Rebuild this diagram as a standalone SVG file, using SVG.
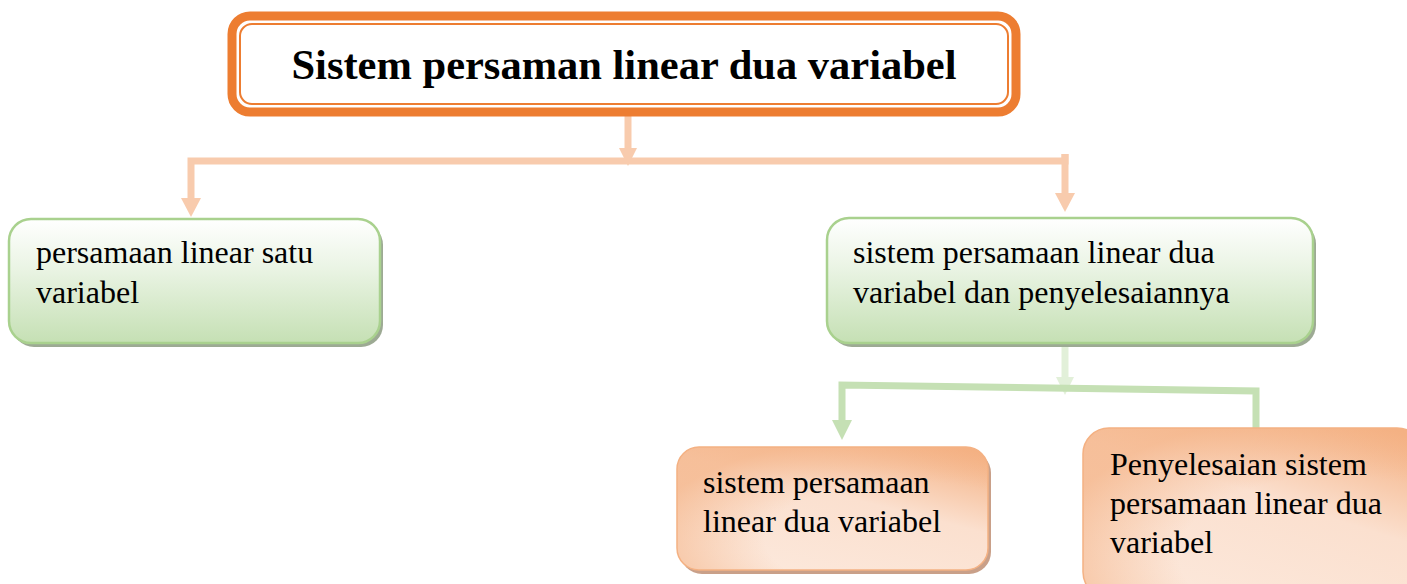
<svg xmlns="http://www.w3.org/2000/svg" width="1407" height="584" viewBox="0 0 1407 584">
<style>
.t{font-family:"Liberation Serif","Times New Roman",serif;font-size:32px;fill:#000}
.title{font-family:"Liberation Serif","Times New Roman",serif;font-size:42.5px;font-weight:bold;fill:#000}
.gbox{fill:url(#gg);stroke:#A9D18E;stroke-width:2.5}
.obox{fill:url(#og);stroke:#F4B183;stroke-width:1.5}
.gsh{fill:#9DAA94}
.osh{fill:#C9A089}
.pc{stroke:#F8CBAD;stroke-width:7;fill:none}
.gc{stroke:#C5E0B4;stroke-width:7;fill:none}
.lc{stroke:#E2F0D9;stroke-width:7;fill:none}
</style>
<defs>
<linearGradient id="gg" x1="0" y1="0" x2="0" y2="1">
<stop offset="0" stop-color="#FFFFFF"/>
<stop offset="0.4" stop-color="#EAF4E4"/>
<stop offset="1" stop-color="#C5E0B4"/>
</linearGradient>
<linearGradient id="og" x1="0.9" y1="0" x2="0.25" y2="1">
<stop offset="0" stop-color="#F4B183"/>
<stop offset="0.45" stop-color="#FBE0CF"/>
<stop offset="1" stop-color="#FCE8DB"/>
</linearGradient>
<radialGradient id="oe" cx="0.75" cy="0.75" r="0.85">
<stop offset="0.55" stop-color="#F4B183" stop-opacity="0"/>
<stop offset="1" stop-color="#F4B183" stop-opacity="0.7"/>
</radialGradient>
</defs>
<g id="connectors">
<line class="pc" x1="628" y1="116" x2="628" y2="150"/>
<polygon points="619,148 637,148 628,166" fill="#F8CBAD"/>
<polyline class="pc" points="191,200 191,161 1065,161 1065,154"/>
<line class="pc" x1="1065" y1="154" x2="1065" y2="194"/>
<polygon points="181,198 201,198 191,217" fill="#F8CBAD"/>
<polygon points="1055,193 1075,193 1065,212" fill="#F8CBAD"/>
<line class="lc" x1="1065" y1="343" x2="1065" y2="380"/>
<polygon points="1056,377 1074,377 1065,395" fill="#E2F0D9"/>
<polyline class="gc" points="842,422 842,385 1256,391 1256,430"/>
<polygon points="832,420 852,420 842,440" fill="#C5E0B4"/>
</g>
<g id="title">
<rect x="232" y="16" width="784" height="96" rx="18" fill="#FFFFFF" stroke="#ED7D31" stroke-width="9"/>
<rect x="240" y="24" width="768" height="80" rx="12" fill="none" stroke="#ED7D31" stroke-width="2"/>
<text class="title" x="624" y="79" text-anchor="middle">Sistem persaman linear dua variabel</text>
</g>
<g id="node-satu">
<rect class="gsh" x="12" y="223" width="371" height="124" rx="22"/>
<rect class="gbox" x="9" y="219" width="371" height="124" rx="22"/>
<text class="t" x="36" y="263">persamaan linear satu</text>
<text class="t" x="36" y="303">variabel</text>
</g>
<g id="node-dua">
<rect class="gsh" x="830" y="222" width="486" height="125" rx="22"/>
<rect class="gbox" x="827" y="218" width="486" height="125" rx="22"/>
<text class="t" x="853" y="263">sistem persamaan linear dua</text>
<text class="t" x="853" y="303">variabel dan penyelesaiannya</text>
</g>
<g id="node-spldv">
<rect class="osh" x="680" y="451" width="311" height="123" rx="22"/>
<rect class="obox" x="677" y="447" width="311" height="123" rx="22"/>
<rect x="677" y="447" width="311" height="123" rx="22" fill="url(#oe)"/>
<text class="t" x="703" y="493">sistem persamaan</text>
<text class="t" x="703" y="532">linear dua variabel</text>
</g>
<g id="node-penyelesaian">
<rect class="osh" x="1086" y="432" width="340" height="170" rx="26"/>
<rect class="obox" x="1083" y="428" width="340" height="170" rx="26"/>
<rect x="1083" y="428" width="340" height="170" rx="26" fill="url(#oe)"/>
<text class="t" x="1110" y="475">Penyelesaian sistem</text>
<text class="t" x="1110" y="514">persamaan linear dua</text>
<text class="t" x="1110" y="553">variabel</text>
</g>
</svg>
